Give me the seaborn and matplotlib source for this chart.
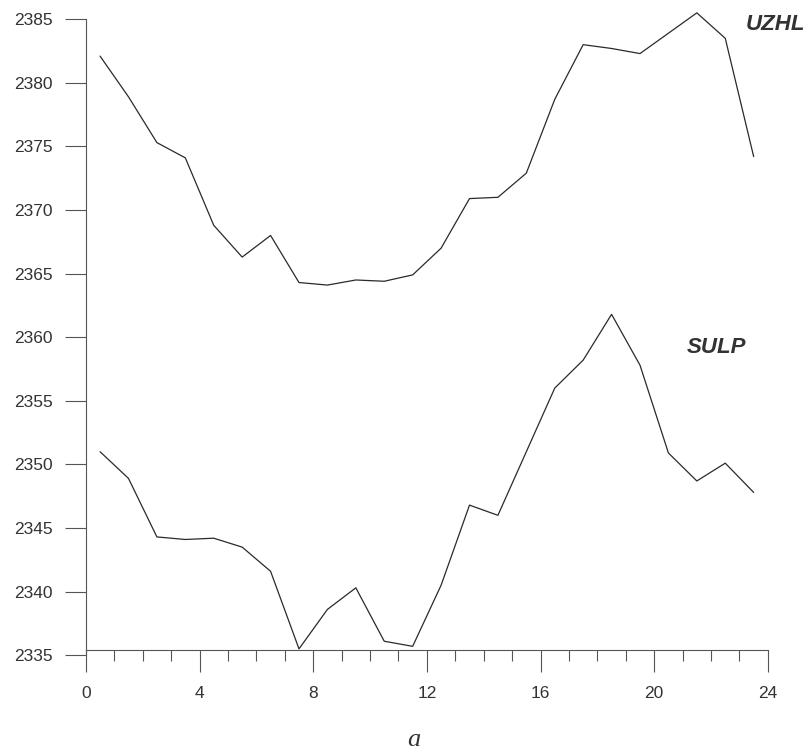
import pandas as pd
import matplotlib.pyplot as plt
import seaborn as sns
from matplotlib.ticker import MultipleLocator

# hourly values (half-hour centres)
hours = [0.5, 1.5, 2.5, 3.5, 4.5, 5.5, 6.5, 7.5, 8.5, 9.5, 10.5, 11.5,
         12.5, 13.5, 14.5, 15.5, 16.5, 17.5, 18.5, 19.5, 20.5, 21.5, 22.5, 23.5]
uzhl = [2382.1, 2378.9, 2375.3, 2374.1, 2368.8, 2366.3, 2368.0, 2364.3,
        2364.1, 2364.5, 2364.4, 2364.9, 2367.0, 2370.9, 2371.0, 2372.9,
        2378.7, 2383.0, 2382.7, 2382.3, 2383.9, 2385.5, 2383.5, 2374.2]
sulp = [2351.0, 2348.9, 2344.3, 2344.1, 2344.2, 2343.5, 2341.6, 2335.5,
        2338.6, 2340.3, 2336.1, 2335.7, 2340.5, 2346.8, 2346.0, 2351.0,
        2356.0, 2358.2, 2361.8, 2357.8, 2350.9, 2348.7, 2350.1, 2347.8]
station_names = ['UZHL', 'SULP']

df = pd.DataFrame({'hour': hours + hours,
                   'value': uzhl + sulp,
                   'station': [station_names[0]] * len(hours) + [station_names[1]] * len(hours)})

sns.set_style('ticks')
plt.rcParams['font.family'] = ['Liberation Sans', 'DejaVu Sans']

fig = plt.figure(figsize=(8.1, 7.54), dpi=100)
ax = fig.add_axes([0.106, 0.131, 0.842, 0.8435])

sns.lineplot(data=df, x='hour', y='value', units='station', estimator=None,
             color='#2a2a2a', linewidth=0.9, ax=ax)
for line in ax.lines:
    line.set_clip_on(False)

ax.set_xlim(0, 24)
ax.set_ylim(2335, 2385)
ax.xaxis.set_major_locator(MultipleLocator(4))
ax.xaxis.set_minor_locator(MultipleLocator(1))
ax.yaxis.set_major_locator(MultipleLocator(5))

sns.despine(ax=ax)
ax.spines['bottom'].set_position(('data', 2335.4))
for s in ['left', 'bottom']:
    ax.spines[s].set_color('#555555')
    ax.spines[s].set_linewidth(0.8)

ax.tick_params(axis='y', which='major', length=15, width=0.8, color='#555555',
               pad=9, labelsize=12.5, labelcolor='#333333')
ax.tick_params(axis='x', which='major', length=16, width=0.8, color='#555555',
               pad=10, labelsize=12.5, labelcolor='#333333')
ax.tick_params(axis='x', which='minor', length=8, width=0.8, color='#555555')

ax.set_xlabel('')
ax.set_ylabel('')

# station labels
ax.text(24.25, 2384.6, station_names[0], fontsize=16, fontstyle='italic',
        fontweight='bold', color='#333333', ha='center', va='center', clip_on=False)
ax.text(22.2, 2359.2, station_names[1], fontsize=16, fontstyle='italic',
        fontweight='bold', color='#333333', ha='center', va='center')

fig.text(414 / 810, 1 - 740 / 754, 'a', fontsize=19, fontstyle='italic',
         family='Liberation Serif', color='#333333', ha='center', va='center')

plt.savefig('out.png', dpi=100)
